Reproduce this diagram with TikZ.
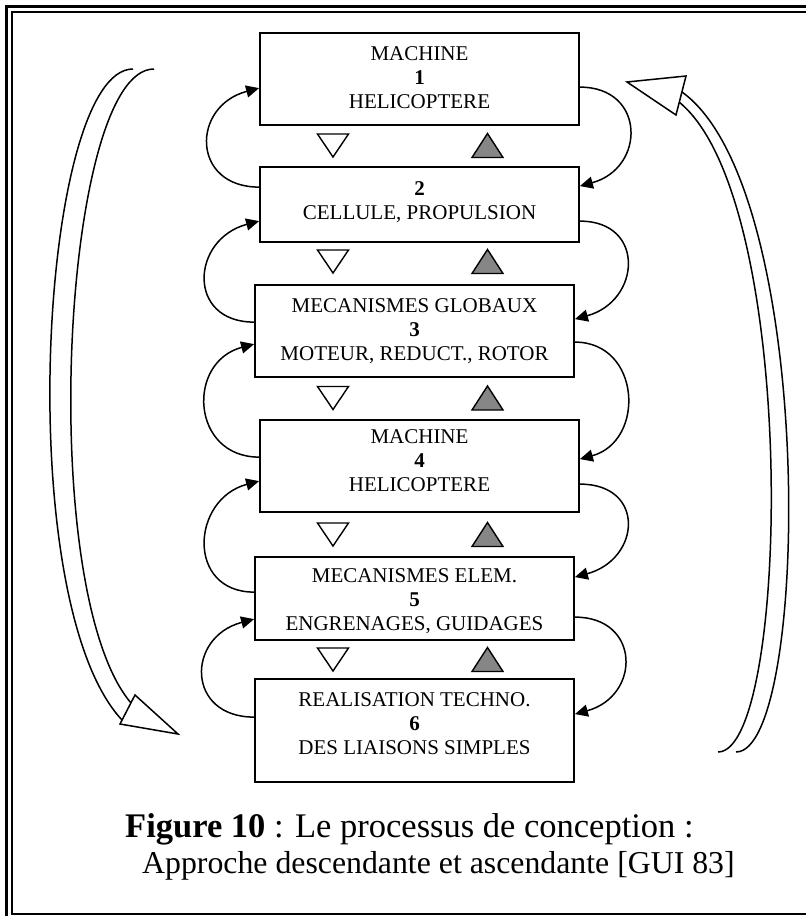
\documentclass[tikz,border=0pt]{standalone}
\usepackage{fontspec}
\setmainfont{Liberation Serif}
\usetikzlibrary{arrows.meta}
\begin{document}
\begin{tikzpicture}[x=1pt,y=-1pt,
  box/.style={draw, line width=1.8pt, inner sep=0pt, minimum width=319pt},
  lbl/.style={align=center, inner sep=0pt, font=\fontsize{21}{24}\selectfont},
  conn/.style={line width=1.5pt, -{Triangle[length=13pt,width=12pt]}},
  big/.style={line width=1.5pt},
  head/.style={draw, fill=white, line width=1.5pt, line join=miter},
  downtri/.pic={\filldraw[line width=1.4pt, fill=white, line join=miter]
      (-15.5,-11.5) -- (15.5,-11.5) -- (0,11.5) -- cycle;},
  uptri/.pic={\filldraw[line width=1.4pt, fill=gray!95, line join=miter]
      (-15.5,12) -- (15.5,12) -- (0,-12) -- cycle;},
  captext/.style={anchor=base west, inner sep=0pt}
]
\useasboundingbox (0,0) rectangle (806,916);
\clip (0,0) rectangle (806,916);

% page frame
\draw[line width=2.4pt] (6.5,6.5) rectangle (812,921);
\draw[line width=2pt] (12,12) rectangle (812,914);

% level boxes
\node[box, minimum height=92pt] (b1) at (419.5,79) {};
\node[box, minimum height=75pt] (b2) at (419.5,204.5) {};
\node[box, minimum height=92pt] (b3) at (414.5,331) {};
\node[box, minimum height=92pt] (b4) at (419.5,466) {};
\node[box, minimum height=83pt] (b5) at (414.5,598.5) {};
\node[box, minimum height=103pt] (b6) at (414.5,730.5) {};

% box texts
\node[lbl] (t1) at (419.5,77.5) {MACHINE\\\textbf{1}\\HELICOPTERE};
\node[lbl] (t2) at (419.5,202) {\textbf{2}\\CELLULE, PROPULSION};
\node[lbl] (t3) at (414.5,331) {MECANISMES GLOBAUX\\\textbf{3}\\MOTEUR, REDUCT., ROTOR};
\node[lbl] (t4) at (419.5,461) {MACHINE\\\textbf{4}\\HELICOPTERE};
\node[lbl] (t5) at (414.5,601) {MECANISMES ELEM.\\\textbf{5}\\ENGRENAGES, GUIDAGES};
\node[lbl] (t6) at (414.5,724) {REALISATION TECHNO.\\\textbf{6}\\DES LIAISONS SIMPLES};

% down / up markers between levels
\foreach \y in {145.5,261.5,398,534.5,659.5}{
  \pic at (333,\y) {downtri};
  \pic at (487.5,\y) {uptri};
}

% left loops: lower box back up to upper box
\draw[conn] ([yshift=-21pt]b2.north west) .. controls +(-68,0) and +(-68,18) .. ([yshift=-56pt]b1.north west);
\draw[conn] ([yshift=-38pt]b3.north west) .. controls +(-68,0) and +(-68,18) .. ([yshift=-55pt]b2.north west);
\draw[conn] ([yshift=-38pt]b4.north west) .. controls +(-68,0) and +(-68,18) .. ([yshift=-60pt]b3.north west);
\draw[conn] ([yshift=-36pt]b5.north west) .. controls +(-68,0) and +(-68,18) .. ([yshift=-62pt]b4.north west);
\draw[conn] ([yshift=-39pt]b6.north west) .. controls +(-68,0) and +(-68,18) .. ([yshift=-63pt]b5.north west);

% right loops: upper box down to lower box
\draw[conn] ([yshift=-55pt]b1.north east) .. controls +(66,0) and +(66,-18) .. ([yshift=-20pt]b2.north east);
\draw[conn] ([yshift=-55pt]b2.north east) .. controls +(66,0) and +(66,-18) .. ([yshift=-35pt]b3.north east);
\draw[conn] ([yshift=-58pt]b3.north east) .. controls +(66,0) and +(66,-18) .. ([yshift=-40pt]b4.north east);
\draw[conn] ([yshift=-65pt]b4.north east) .. controls +(66,0) and +(66,-18) .. ([yshift=-21pt]b5.north east);
\draw[conn] ([yshift=-61pt]b5.north east) .. controls +(66,0) and +(66,-18) .. ([yshift=-36pt]b6.north east);

% descending approach (left, double-lined)
\coordinate (dTo) at (133,69);
\coordinate (dTi) at (154,69);
\coordinate (dBo) at (122,720);
\coordinate (dBi) at (131,703);
\draw[big] (dTo) .. controls (40,69) and (10,600) .. (dBo);
\draw[big] (dTi) .. controls (62,69) and (35,590) .. (dBi);
\filldraw[head] (120,724) coordinate (dh1) -- (135,695) coordinate (dh2) -- (178,734) coordinate (dh3) -- cycle;

% ascending approach (right, double-lined)
\coordinate (aBi) at (718,752);
\coordinate (aBo) at (736,752);
\coordinate (aTi) at (679,102);
\coordinate (aTo) at (682,92);
\draw[big] (aBi) .. controls (790,752) and (800,200) .. (aTi);
\draw[big] (aBo) .. controls (810,752) and (818,190) .. (aTo);
\filldraw[head] (627,82) coordinate (ah1) -- (686,76) coordinate (ah2) -- (676,115) coordinate (ah3) -- cycle;

% caption
\node[captext, font=\fontsize{34.5}{40}\selectfont] (c1) at (125,837) {\textbf{Figure 10} : Le processus de conception :};
\node[captext, font=\fontsize{31.8}{38}\selectfont] (c2) at (142,873) {Approche descendante et ascendante [GUI 83]};
\end{tikzpicture}
\end{document}
